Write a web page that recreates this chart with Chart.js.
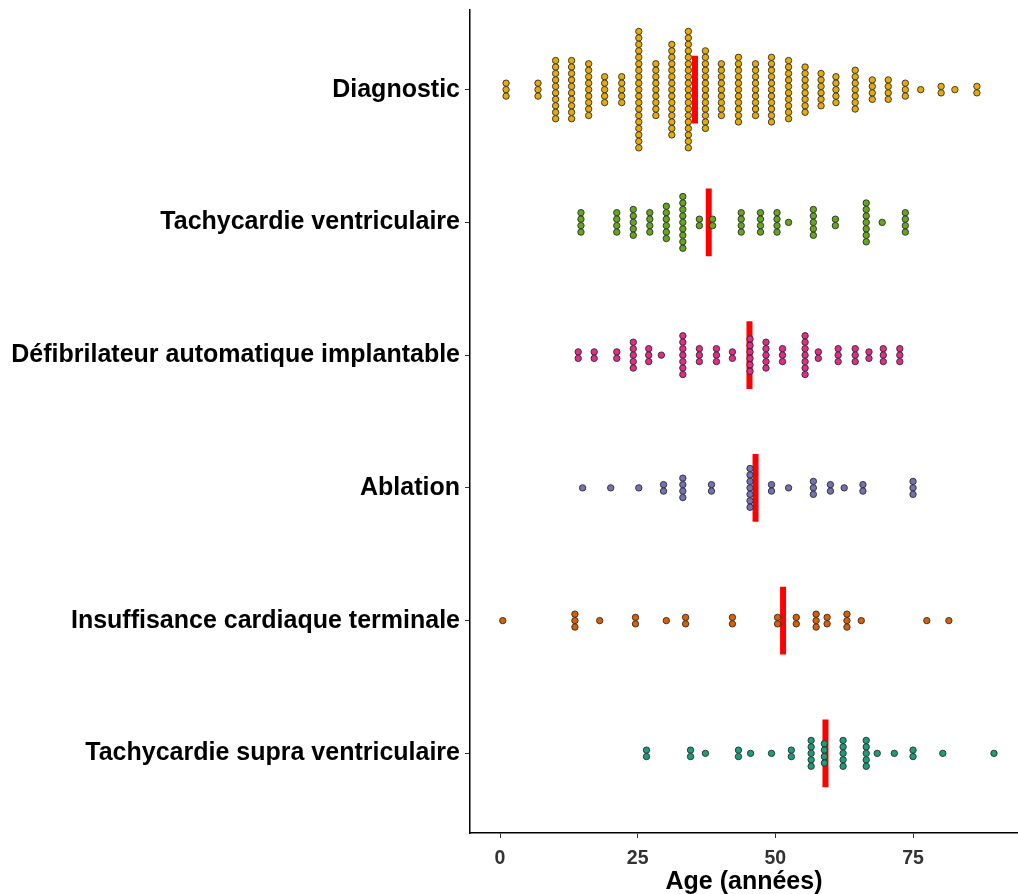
<!DOCTYPE html>
<html>
<head>
<meta charset="utf-8">
<script src="https://cdn.jsdelivr.net/npm/chart.js@4/dist/chart.umd.min.js"></script>
<style>
  body { margin: 0; background: #fff; overflow: hidden; }
  #wrap { width: 1018px; height: 894px; }
  canvas { display: block; }
</style>
</head>
<body>
<div id="wrap"><canvas id="dotChart" width="1018" height="894"></canvas></div>
<script>
// groupes, du haut vers le bas
const categories = ['Diagnostic', 'Tachycardie ventriculaire', 'Défibrilateur automatique implantable',
  'Ablation', 'Insuffisance cardiaque terminale', 'Tachycardie supra ventriculaire'];
const colors = ['#E6AB02', '#66A61E', '#E7298A', '#7570B3', '#D95F02', '#1B9E77'];

// age de chaque colonne de points + nombre de points empilés
const diagAges   = [1.1, 6.9, 10.1, 13.0, 16.1, 19.0, 22.1, 25.2, 28.3, 31.2, 34.2, 37.3, 40.2, 43.3, 46.4, 49.3, 52.4, 55.4, 58.3, 61.0, 64.5, 67.6, 70.5, 73.6, 76.4, 80.1, 82.6, 86.6];
const diagCounts = [3, 3, 10, 10, 9, 5, 5, 19, 9, 15, 19, 13, 9, 11, 9, 11, 10, 8, 6, 5, 7, 4, 4, 3, 1, 2, 1, 2];

const tvAges   = [14.7, 21.2, 24.2, 27.2, 30.2, 33.2, 36.2, 38.6, 43.8, 47.3, 50.3, 52.4, 56.9, 60.9, 66.5, 69.4, 73.6];
const tvCounts = [4, 4, 5, 4, 6, 9, 2, 2, 4, 4, 4, 1, 5, 2, 7, 1, 4];

const daiAges   = [14.2, 17.1, 21.2, 24.2, 27.0, 29.3, 33.2, 36.2, 39.3, 42.2, 45.4, 48.3, 51.3, 55.4, 57.8, 61.4, 64.5, 67.0, 69.6, 72.6];
const daiCounts = [2, 2, 2, 5, 3, 1, 7, 3, 3, 2, 6, 5, 3, 7, 2, 3, 3, 2, 3, 3];

const ablAges   = [15.0, 20.1, 25.2, 29.7, 33.2, 38.4, 45.4, 49.3, 52.4, 56.9, 60.0, 62.5, 65.9, 75.0];
const ablCounts = [1, 1, 1, 2, 4, 2, 7, 2, 1, 3, 2, 1, 2, 3];

const ictAges   = [0.5, 13.6, 18.1, 24.6, 30.2, 33.7, 42.2, 50.4, 53.8, 57.4, 59.4, 63.0, 65.6, 77.5, 81.5];
const ictCounts = [1, 3, 1, 2, 1, 2, 2, 2, 2, 3, 2, 3, 1, 1, 1];

const tsvAges   = [26.6, 34.6, 37.3, 43.3, 45.5, 49.3, 52.9, 56.5, 58.9, 62.3, 66.5, 68.5, 71.6, 75.0, 80.4, 89.7];
const tsvCounts = [2, 2, 1, 2, 1, 1, 2, 5, 4, 5, 5, 1, 1, 2, 1, 1];

const medians = [35.4, 37.9, 45.3, 46.4, 51.4, 59.1];

const xTicks = [0, 25, 50, 75];

const groupAges = [diagAges, tvAges, daiAges, ablAges, ictAges, tsvAges];
const groupCounts = [diagCounts, tvCounts, daiCounts, ablCounts, ictCounts, tsvCounts];

let step = 0.0487; // écart vertical entre deux points empilés (unités de l'axe y)

function stackPoints(ages, counts, row){
  let pts = [];
  for (let i = 0; i < ages.length; i++) {
    for (let k = 0; k < counts[i]; k++) {
      pts.push({x: ages[i], y: row + step * (k - (counts[i] - 1) / 2)});
    }
  }
  return pts;
}

let datasets = [];
for (let g = 0; g < categories.length; g++) {
  datasets.push({
    type: 'scatter',
    label: categories[g],
    data: stackPoints(groupAges[g], groupCounts[g], g + 1),
    backgroundColor: colors[g],
    borderColor: '#2b2b2b',
    borderWidth: 0.9,
    pointRadius: 3.2,
    order: 0
  });
  datasets.push({
    type: 'line',
    label: 'median ' + categories[g],
    data: [{x: medians[g], y: g + 1 - 0.255}, {x: medians[g], y: g + 1 + 0.255}],
    borderColor: '#FF0000',
    borderWidth: 6,
    borderCapStyle: 'butt',
    pointRadius: 0,
    fill: false,
    order: 10
  });
}

let ctx = document.getElementById('dotChart').getContext('2d');
let chart = new Chart(ctx, {
  type: 'scatter',
  data: { datasets: datasets },
  options: {
    responsive: false,
    animation: false,
    layout: { autoPadding: false, padding: { top: 10, right: 0, left: 0, bottom: 0 } },
    plugins: { legend: { display: false }, tooltip: { enabled: false } },
    scales: {
      x: {
        type: 'linear',
        min: -5.45,
        max: 94.06,
        afterBuildTicks: function(scale){ scale.ticks = xTicks.map(v => ({value: v})); },
        afterFit: function(scale){ scale.height = 61; scale.paddingLeft = 0; scale.paddingRight = 0; },
        grid: { drawOnChartArea: false, drawTicks: true, tickLength: 5, color: '#333', lineWidth: 1 },
        border: { display: true, color: '#000', width: 1.5 },
        ticks: { color: '#333', padding: 9, font: { family: 'Liberation Sans', size: 19.5, weight: 'bold' } },
        title: { display: true, text: 'Age (années)', color: '#000', padding: { top: 0, bottom: -3 },
                 font: { family: 'Liberation Sans', size: 25, weight: 'bold' } }
      },
      y: {
        type: 'linear',
        min: 0.4,
        max: 6.6,
        reverse: true,
        afterBuildTicks: function(scale){ scale.ticks = categories.map((c, i) => ({value: i + 1})); },
        afterFit: function(scale){ scale.width = 470; scale.paddingTop = 0; scale.paddingBottom = 0; },
        grid: { drawOnChartArea: false, drawTicks: true, tickLength: 5, color: '#333', lineWidth: 1 },
        border: { display: true, color: '#000', width: 1.5 },
        ticks: {
          color: '#000', padding: 5,
          font: { family: 'Liberation Sans', size: 25, weight: 'bold' },
          callback: function(v){ return categories[v - 1]; }
        }
      }
    }
  }
});
</script>
</body>
</html>
